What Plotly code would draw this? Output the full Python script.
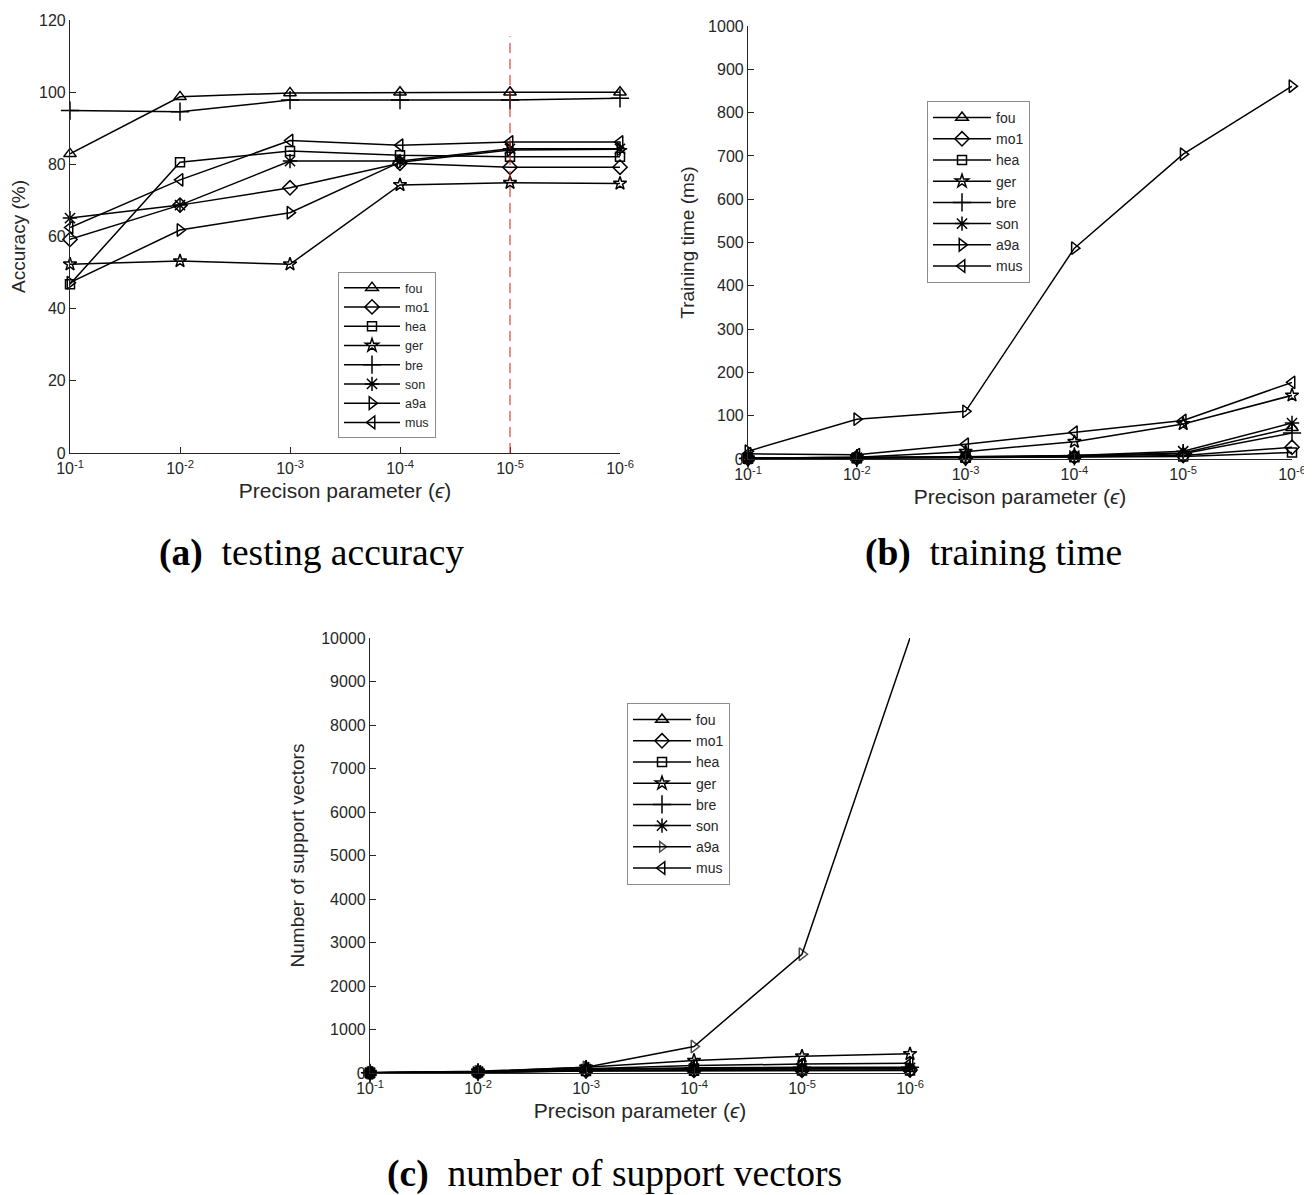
import plotly.graph_objects as go

# ---------------- data ----------------
x_idx = [0, 1, 2, 3, 4, 5]
x_ticktext = ["10<sup>-1</sup>", "10<sup>-2</sup>", "10<sup>-3</sup>",
              "10<sup>-4</sup>", "10<sup>-5</sup>", "10<sup>-6</sup>"]
series_names = ["fou", "mo1", "hea", "ger", "bre", "son", "a9a", "mus"]

# (a) testing accuracy (%)
acc_fou = [82.9, 98.7, 99.8, 100.0, 100.0, 100.0]
acc_mo1 = [59.2, 68.7, 73.5, 80.3, 79.2, 79.2]
acc_hea = [46.8, 80.6, 83.7, 82.5, 82.1, 82.1]
acc_ger = [52.3, 53.2, 52.3, 74.3, 74.9, 74.7]
acc_bre = [94.9, 94.6, 97.8, 97.8, 97.8, 98.3]
acc_son = [65.1, 68.7, 80.9, 80.9, 84.3, 84.3]
acc_a9a = [47.2, 61.8, 66.6, 80.6, 84.0, 84.2]
acc_mus = [62.5, 75.7, 86.6, 85.3, 86.2, 86.2]

# (b) training time (ms)
time_fou = [2, 3, 5, 8, 14, 72]
time_mo1 = [1, 2, 3, 5, 8, 27]
time_hea = [1, 2, 3, 4, 6, 15]
time_ger = [2, 4, 17, 40, 81, 147]
time_bre = [1, 2, 4, 6, 12, 60]
time_son = [2, 3, 5, 8, 18, 83]
time_a9a = [18, 92, 110, 487, 704, 861]
time_mus = [12, 10, 34, 62, 89, 177]

# (c) number of support vectors
sv_fou = [3, 15, 60, 80, 90, 95]
sv_mo1 = [3, 15, 50, 60, 65, 70]
sv_hea = [3, 15, 45, 50, 55, 55]
sv_ger = [5, 40, 130, 285, 385, 440]
sv_bre = [3, 20, 80, 120, 130, 135]
sv_son = [5, 30, 90, 100, 110, 115]
sv_a9a = [5, 30, 130, 608, 2730, 10000]
sv_mus = [4, 25, 100, 170, 205, 222]

acc_data = [acc_fou, acc_mo1, acc_hea, acc_ger, acc_bre, acc_son, acc_a9a, acc_mus]
time_data = [time_fou, time_mo1, time_hea, time_ger, time_bre, time_son, time_a9a, time_mus]
sv_data = [sv_fou, sv_mo1, sv_hea, sv_ger, sv_bre, sv_son, sv_a9a, sv_mus]

marker_symbols = ["triangle-up-open", "diamond-open", "square-open", "star-open",
                  "cross-thin-open", "asterisk-open", "triangle-right-open", "triangle-left-open"]
marker_sizes = [11, 11, 9, 10, 13, 12, 11, 11]

# ---------------- layout helpers ----------------
# the page body has an 8px margin, so the figure is placed at (8, 8) in the window
OFF = 8
W, H = 1304, 1187
def xd(l, r):
    return [(l - OFF) / W, (r - OFF) / W]
def yd(top, bottom):
    return [1 - (bottom - OFF) / H, 1 - (top - OFF) / H]
def px(x):
    return (x - OFF) / W
def py(y):
    return 1 - (y - OFF) / H

AX = "#262626"
FONT = "Liberation Sans, Arial, sans-serif"

fig = go.Figure()

panels = [
    (acc_data, "x", "y", "legend", 0),
    (time_data, "x2", "y2", "legend2", 1),
    (sv_data, "x3", "y3", "legend3", 2),
]
for data, xa, ya, lg, pi in panels:
    for name, vals, sym, ms in zip(series_names, data, marker_symbols, marker_sizes):
        size = ms
        if pi == 2 and name == "a9a":
            # last a9a point sits on the clipped top edge in the reference: no visible marker
            size = [ms] * 5 + [0]
        fig.add_trace(go.Scatter(
            x=x_idx, y=vals, name=name, mode="lines+markers",
            xaxis=xa, yaxis=ya, legend=lg, cliponaxis=False,
            line=dict(color="black", width=1.5),
            marker=dict(symbol=sym, size=size, color="black",
                        line=dict(color="black", width=1.5)),
        ))

def xaxis_style(domain, anchor):
    return dict(domain=domain, anchor=anchor, range=[0, 5],
                tickmode="array", tickvals=x_idx, ticktext=x_ticktext,
                showline=True, linecolor=AX, linewidth=1.2, mirror=False,
                ticks="inside", ticklen=6, tickcolor=AX, tickwidth=1.2,
                showgrid=False, zeroline=False, ticklabelstandoff=1,
                tickfont=dict(family=FONT, size=16, color=AX),
                title=dict(text="Precison parameter (<i>ϵ</i>)",
                           font=dict(family=FONT, size=21, color=AX), standoff=7),
                automargin=False)

def yaxis_style(domain, anchor, rng, dt, title, standoff):
    return dict(domain=domain, anchor=anchor, range=rng, dtick=dt, tick0=0,
                tickformat="d",
                showline=True, linecolor=AX, linewidth=1.2, mirror=False,
                ticks="inside", ticklen=6, tickcolor=AX, tickwidth=1.2,
                showgrid=False, zeroline=False,
                tickfont=dict(family=FONT, size=16, color=AX),
                title=dict(text=title, font=dict(family=FONT, size=19, color=AX),
                           standoff=standoff),
                automargin=False)

def legend_style(l, t, fs, iw):
    return dict(x=px(l), y=py(t), xanchor="left", yanchor="top",
                bgcolor="white", bordercolor="#8c8c8c", borderwidth=1,
                font=dict(family=FONT, size=fs, color=AX),
                itemwidth=iw, tracegroupgap=0)

fig.update_layout(
    width=W, height=H, margin=dict(l=0, r=0, t=0, b=0),
    paper_bgcolor="white", plot_bgcolor="white",
    font=dict(family=FONT, color=AX),
    xaxis=xaxis_style(xd(70, 620), "y"),
    yaxis=yaxis_style(yd(20, 453), "x", [0, 120], 20, "Accuracy (%)", 10),
    xaxis2=xaxis_style(xd(748, 1292), "y2"),
    yaxis2=yaxis_style(yd(26, 459), "x2", [0, 1000], 100, "Training time (ms)", 8),
    xaxis3=xaxis_style(xd(370, 910), "y3"),
    yaxis3=yaxis_style(yd(638, 1073), "x3", [0, 10000], 1000, "Number of support vectors", 11),
    legend=legend_style(338, 272, 12.5, 56),
    legend2=legend_style(927, 101, 14, 58),
    legend3=legend_style(627, 703, 14, 58),
    showlegend=True,
)

# red dashed reference line at 10^-5 in panel (a)
fig.add_shape(type="line", xref="x", yref="y", x0=4, x1=4, y0=0, y1=115.5,
              line=dict(color="#d62020", width=1, dash="10px,6px"))

# captions
CAP = "Liberation Serif, Times New Roman, serif"
for cx, cy, txt in [(311, 553, "<b>(a)</b>  testing accuracy"),
                    (993, 553, "<b>(b)</b>  training time"),
                    (614, 1174, "<b>(c)</b>  number of support vectors")]:
    fig.add_annotation(x=px(cx), y=py(cy), xref="paper", yref="paper",
                       xanchor="center", yanchor="middle",
                       text=txt, showarrow=False,
                       font=dict(family=CAP, size=37.5, color="black"))

fig.write_html("out.html")
